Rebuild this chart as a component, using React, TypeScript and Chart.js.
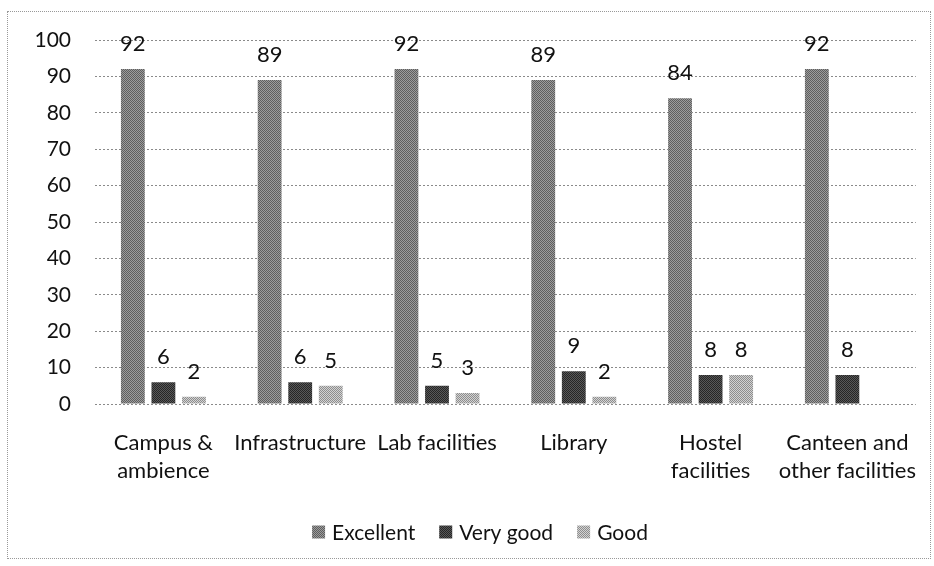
import React, { useEffect, useRef } from "react";
import { Chart, registerables } from "chart.js";

Chart.register(...registerables);

const categories: (string | string[])[] = [
  ["Campus &", "ambience"],
  "Infrastructure",
  "Lab facilities",
  "Library",
  ["Hostel", "facilities"],
  ["Canteen and", "other facilities"],
];
const seriesNames = ["Excellent", "Very good", "Good"];
const excellent = [92, 89, 92, 89, 84, 92];
const veryGood = [6, 6, 5, 9, 8, 8];
const good: (number | null)[] = [2, 5, 3, 2, 8, null];
const yTicks = [0, 10, 20, 30, 40, 50, 60, 70, 80, 90, 100];

const FONT = "Lato, 'Open Sans', sans-serif";

function makePattern(a: string, b: string): CanvasPattern | string {
  const c = document.createElement("canvas");
  c.width = 2;
  c.height = 2;
  const g = c.getContext("2d");
  if (!g) return a;
  g.fillStyle = a;
  g.fillRect(0, 0, 2, 2);
  g.fillStyle = b;
  g.fillRect(0, 0, 1, 1);
  g.fillRect(1, 1, 1, 1);
  const p = g.createPattern(c, "repeat");
  return p || a;
}

const valueLabels = {
  id: "valueLabels",
  afterDatasetsDraw(chart: any) {
    const ctx = chart.ctx;
    ctx.save();
    ctx.font = `22px ${FONT}`;
    ctx.fillStyle = "#111";
    ctx.textAlign = "center";
    ctx.textBaseline = "middle";
    chart.data.datasets.forEach((ds: any, i: number) => {
      const meta = chart.getDatasetMeta(i);
      meta.data.forEach((el: any, j: number) => {
        const v = ds.data[j];
        if (v === null || v === undefined) return;
        ctx.fillText(String(v), el.x, el.y - 25);
      });
    });
    ctx.restore();
  },
};

// Legend drawn below the x axis, centred like the original
const customLegend = {
  id: "customLegend",
  afterDraw(chart: any) {
    const ctx = chart.ctx;
    const box = 13;
    const gapText = 7;
    const gapItem = 24;
    const centerX = 480;
    const centerY = 532;
    ctx.save();
    ctx.font = `21px ${FONT}`;
    ctx.textBaseline = "middle";
    ctx.textAlign = "left";
    const items = chart.data.datasets.map((ds: any) => ({
      text: ds.label,
      fill: ds.backgroundColor,
      w: ctx.measureText(ds.label).width,
    }));
    const total =
      items.reduce((s: number, it: any) => s + box + gapText + it.w, 0) + gapItem * (items.length - 1);
    let x = centerX - total / 2;
    items.forEach((it: any) => {
      ctx.fillStyle = it.fill;
      ctx.fillRect(x, centerY - box / 2, box, box);
      ctx.fillStyle = "#111";
      ctx.fillText(it.text, x + box + gapText, centerY + 1);
      x += box + gapText + it.w + gapItem;
    });
    ctx.restore();
  },
};

export default function App() {
  const ref = useRef<HTMLCanvasElement>(null);
  useEffect(() => {
    if (!ref.current) return;
    const pEx = makePattern("#9c9c9c", "#5e5e5e");
    const pVg = makePattern("#585858", "#262626");
    const pGd = makePattern("#d2d2d2", "#8e8e8e");
    const chart = new Chart(ref.current, {
      type: "bar",
      data: {
        labels: categories,
        datasets: [
          { label: seriesNames[0], data: excellent, backgroundColor: pEx as any, categoryPercentage: 0.67, barPercentage: 0.78 },
          { label: seriesNames[1], data: veryGood, backgroundColor: pVg as any, categoryPercentage: 0.67, barPercentage: 0.78 },
          { label: seriesNames[2], data: good, backgroundColor: pGd as any, categoryPercentage: 0.67, barPercentage: 0.78 },
        ],
      },
      options: {
        animation: false,
        responsive: false,
        layout: { padding: { left: 0, right: 12, top: 40, bottom: 65 } },
        plugins: {
          legend: { display: false },
          tooltip: { enabled: false },
        },
        scales: {
          x: {
            grid: { display: false },
            border: { display: false },
            ticks: {
              color: "#111",
              font: { family: FONT, size: 22, lineHeight: 1.28 },
              padding: 17,
              maxRotation: 0,
              autoSkip: false,
            },
            afterFit(scale: any) {
              scale.height = 97;
            },
          },
          y: {
            min: 0,
            max: 100,
            afterBuildTicks(scale: any) {
              scale.ticks = yTicks.map((v) => ({ value: v }));
            },
            grid: {
              color: "#8a8a8a",
              drawTicks: false,
              lineWidth: 1,
            },
            border: { display: false, dash: [2, 2] },
            ticks: {
              color: "#111",
              font: { family: FONT, size: 21 },
              padding: 24,
            },
            afterFit(scale: any) {
              scale.width = 95;
            },
          },
        },
      },
      plugins: [valueLabels, customLegend],
    } as any);
    return () => chart.destroy();
  }, []);
  return (
    <div style={{ position: "fixed", left: 0, top: 0, width: 934, height: 566, background: "#fff" }}>
      <canvas ref={ref} width={934} height={566} style={{ position: "absolute", left: 0, top: 0, width: 934, height: 566 }} />
      <div
        style={{
          position: "absolute",
          left: 7,
          top: 11,
          width: 922,
          height: 546,
          border: "1px dotted #999",
          pointerEvents: "none",
        }}
      />
    </div>
  );
}
